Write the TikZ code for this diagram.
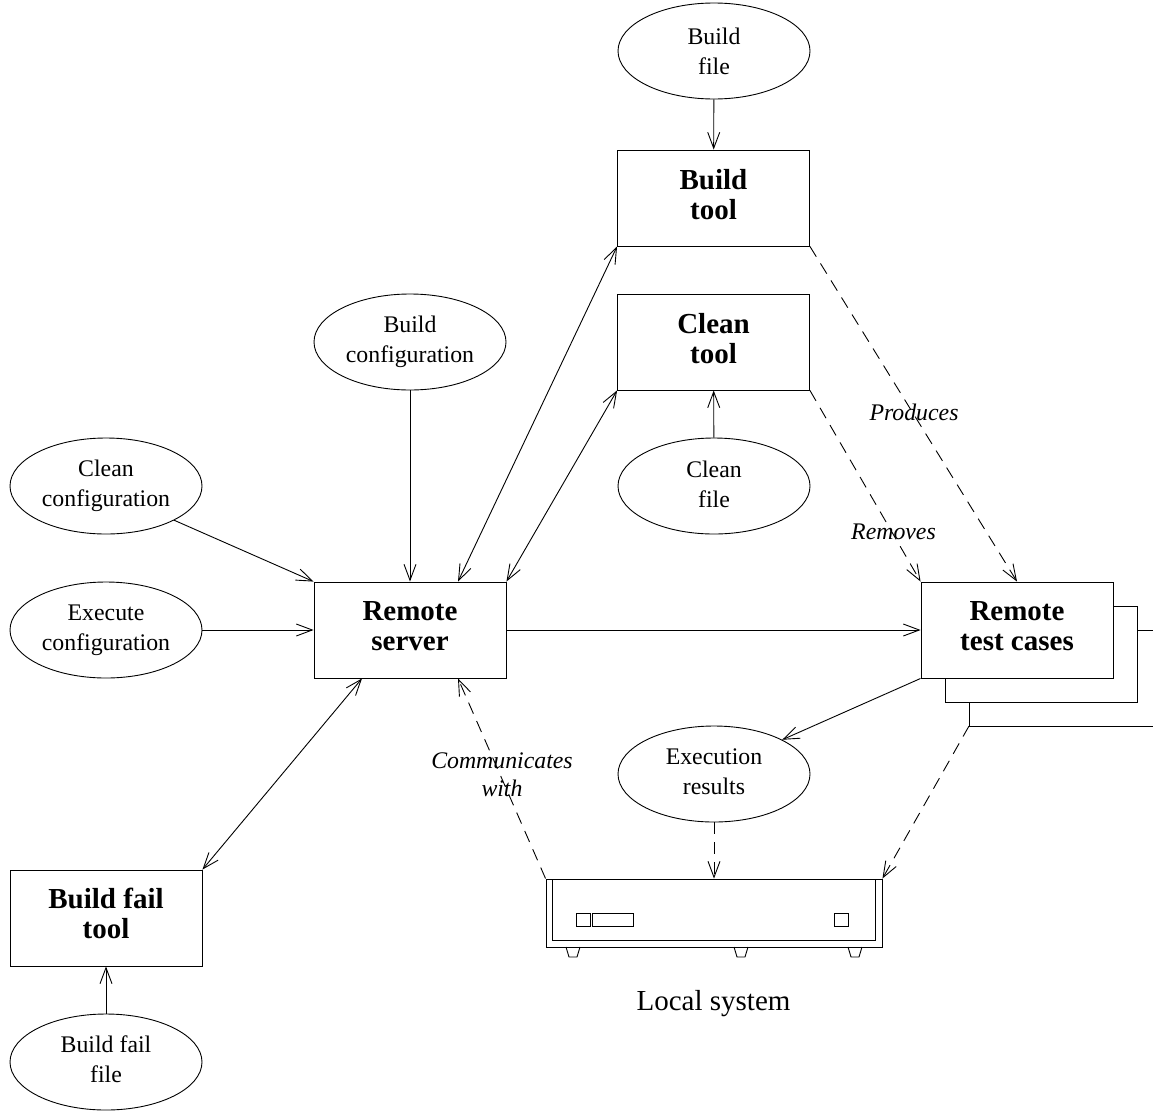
\documentclass[tikz,border=0pt]{standalone}
\usepackage{fontspec}
\setmainfont{Liberation Serif}
\usetikzlibrary{shapes.geometric,arrows.meta}
\newcommand{\liftby}[1]{\rule[-#1]{0pt}{0pt}}
\tikzset{
  base/.style={draw=black,line width=0.9pt,inner sep=0pt,align=center},
  oval/.style={base,ellipse,minimum width=192pt,minimum height=96pt,font=\fontsize{23.8}{30}\selectfont},
  tool/.style={base,rectangle,minimum width=192pt,minimum height=96pt,font=\fontsize{29}{30}\selectfont\bfseries},
  plainbox/.style={base,rectangle},
  conn/.style={line width=0.9pt,-{Straight Barb[length=16pt,width=12pt,line width=0.9pt]}},
  dconn/.style={conn,dash pattern=on 12pt off 8pt},
  both/.style={line width=0.9pt,{Straight Barb[length=16pt,width=12pt,line width=0.9pt]}-{Straight Barb[length=16pt,width=12pt,line width=0.9pt]}},
  edgelabel/.style={inner sep=0pt,align=center,font=\fontsize{23.8}{28}\selectfont\itshape},
  hw/.style={line width=0.9pt}
}
\begin{document}
\begin{tikzpicture}[x=1pt,y=-1pt]
\useasboundingbox (0,0) rectangle (1153,1111);
% stacked pages behind the test cases
\coordinate (p2a) at (1113,606);
\coordinate (p2b) at (1137,606);
\coordinate (p2c) at (1137,702);
\coordinate (p2d) at (945,702);
\coordinate (p2e) at (945,678);
\coordinate (p3a) at (1137,630);
\coordinate (p3b) at (1153,630);
\coordinate (p3c) at (969,702);
\coordinate (p3d) at (969,726);
\coordinate (p3e) at (1153,726);
\draw[hw] (p2a) -- (p2b) -- (p2c) -- (p2d) -- (p2e);
\draw[hw] (p3a) -- (p3b);
\draw[hw] (p3c) -- (p3d) -- (p3e);

\node[oval] (bf) at (714,51) {Build\\file};
\node[tool] (bt) at (713.5,198) {Build\\tool\liftby{8pt}};
\node[tool] (ct) at (713.5,342) {Clean\\tool\liftby{8pt}};
\node[oval] (cf) at (714,486) {Clean\\file\liftby{4pt}};
\node[oval] (bc) at (410,342) {Build\\configuration};
\node[oval] (cc) at (106,486) {Clean\\configuration};
\node[oval] (ec) at (106,630) {Execute\\configuration};
\node[tool] (rs) at (410,630) {Remote\\server\liftby{8pt}};
\node[tool] (rt) at (1017,630) {Remote\\test cases\liftby{8pt}};
\node[oval] (er) at (714,774) {Execution\\results\liftby{4pt}};
\node[tool] (bft) at (106,918) {Build fail\\tool\liftby{9pt}};
\node[oval] (bff) at (106,1062) {Build fail\\file\liftby{6pt}};

% local system
\node[plainbox,minimum width=336pt,minimum height=68pt] (ls) at (714,913) {};
\node[plainbox,minimum width=323pt,minimum height=61pt] (lsi) at (713.5,909.5) {};
\node[plainbox,minimum width=14pt,minimum height=13pt] (b1) at (583,919.5) {};
\node[plainbox,minimum width=41pt,minimum height=13pt] (b2) at (612.5,919.5) {};
\node[plainbox,minimum width=14pt,minimum height=13pt] (b3) at (841,919.5) {};
\draw[hw] (566,947) -- (569,957) -- (577,957) -- (580,947);
\draw[hw] (734,947) -- (737,957) -- (745,957) -- (748,947);
\draw[hw] (848,947) -- (851,957) -- (859,957) -- (862,947);
\node[inner sep=0pt,font=\fontsize{29}{30}\selectfont] (lsl) at (713.5,1004) {Local system};

% connection points on the server
\coordinate (rsn) at ([xshift=48pt]rs.north);
\coordinate (rss) at ([xshift=48pt]rs.south);
\coordinate (rsw) at ([xshift=-48pt]rs.south);

% connectors
\draw[conn] (bf) -- (bt);
\draw[conn] (cf) -- (ct);
\draw[conn] (bc) -- (rs);
\draw[conn] (cc.south east) -- (rs.north west);
\draw[conn] (ec) -- (rs);
\draw[both] (rsn) -- (bt.south west);
\draw[both] (rs.north east) -- (ct.south west);
\draw[conn] (rs) -- (rt);
\draw[conn] (rt.south west) -- (er.north east);
\draw[both] (bft.north east) -- (rsw);
\draw[conn] (bff) -- (bft);
\draw[dconn] (bt.south east) -- (rt.north);
\draw[dconn] (ct.south east) -- (rt.north west);
\draw[dconn] (ls.north west) -- (rss);
\draw[dconn] (er) -- (ls.north);
\draw[dconn] (p3d) -- (ls.north east);

% labels
\node[edgelabel] (lp) at (914,412) {Produces};
\node[edgelabel] (lr) at (893.5,532) {Removes};
\node[edgelabel] (lc) at (502,775) {Communicates\\with};
\end{tikzpicture}
\end{document}
